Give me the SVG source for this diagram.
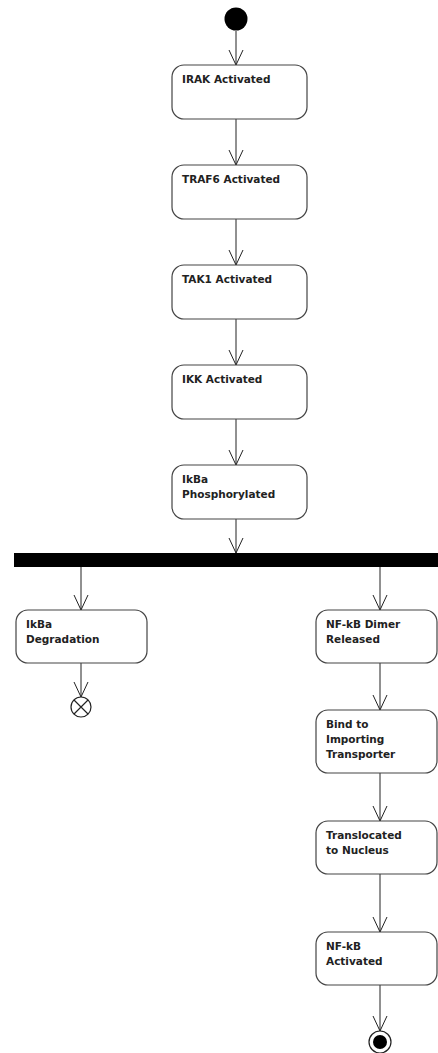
<svg xmlns="http://www.w3.org/2000/svg" width="438" height="1053" viewBox="0 0 438 1053">
<style>
.box{fill:#fff;stroke:#444;stroke-width:1.2}
.t{font-family:"DejaVu Sans",sans-serif;font-weight:bold;font-size:10.5px;fill:#222}
.c{stroke:#222;stroke-width:1;fill:none}
</style>
<defs>
<marker id="a" markerWidth="16" markerHeight="16" refX="15" refY="8" orient="auto" markerUnits="userSpaceOnUse">
<path d="M0,1 L15,8 L0,15" fill="none" stroke="#222" stroke-width="1"/>
</marker>
</defs>
<g id="connectors">
<line class="c" x1="236" y1="31" x2="236" y2="65" marker-end="url(#a)"/>
<line class="c" x1="236" y1="119" x2="236" y2="165" marker-end="url(#a)"/>
<line class="c" x1="236" y1="219" x2="236" y2="265" marker-end="url(#a)"/>
<line class="c" x1="236" y1="319" x2="236" y2="365" marker-end="url(#a)"/>
<line class="c" x1="236" y1="419" x2="236" y2="465" marker-end="url(#a)"/>
<line class="c" x1="236" y1="519" x2="236" y2="553" marker-end="url(#a)"/>
<line class="c" x1="81" y1="567" x2="81" y2="610" marker-end="url(#a)"/>
<line class="c" x1="380" y1="567" x2="380" y2="610" marker-end="url(#a)"/>
<line class="c" x1="81" y1="663" x2="81" y2="697" marker-end="url(#a)"/>
<line class="c" x1="380" y1="663" x2="380" y2="710" marker-end="url(#a)"/>
<line class="c" x1="380" y1="773" x2="380" y2="821" marker-end="url(#a)"/>
<line class="c" x1="380" y1="874" x2="380" y2="932" marker-end="url(#a)"/>
<line class="c" x1="380" y1="985" x2="380" y2="1031" marker-end="url(#a)"/>
</g>
<g id="start"><circle cx="236" cy="19" r="11.5" fill="#000"/></g>
<g id="irak"><rect class="box" x="172" y="65" width="135" height="54" rx="12"/><text class="t" x="182" y="83">IRAK Activated</text></g>
<g id="traf6"><rect class="box" x="172" y="165" width="135" height="54" rx="12"/><text class="t" x="182" y="183">TRAF6 Activated</text></g>
<g id="tak1"><rect class="box" x="172" y="265" width="135" height="54" rx="12"/><text class="t" x="182" y="283">TAK1 Activated</text></g>
<g id="ikk"><rect class="box" x="172" y="365" width="135" height="54" rx="12"/><text class="t" x="182" y="383">IKK Activated</text></g>
<g id="ikba-phos"><rect class="box" x="172" y="465" width="135" height="54" rx="12"/><text class="t" x="182" y="483">IkBa</text><text class="t" x="182" y="498">Phosphorylated</text></g>
<g id="fork"><rect x="14" y="553" width="426" height="14" fill="#000"/></g>
<g id="ikba-deg"><rect class="box" x="16" y="610" width="131" height="53" rx="12"/><text class="t" x="26" y="628">IkBa</text><text class="t" x="26" y="643">Degradation</text></g>
<g id="flow-final"><circle cx="81" cy="707" r="10" fill="#fff" stroke="#222" stroke-width="1.2"/><path d="M74,700 L88,714 M88,700 L74,714" stroke="#222" stroke-width="1.2"/></g>
<g id="dimer"><rect class="box" x="316" y="610" width="121" height="53" rx="12"/><text class="t" x="326" y="628">NF-kB Dimer</text><text class="t" x="326" y="643">Released</text></g>
<g id="bind"><rect class="box" x="316" y="710" width="121" height="63" rx="12"/><text class="t" x="326" y="728">Bind to</text><text class="t" x="326" y="743">Importing</text><text class="t" x="326" y="758">Transporter</text></g>
<g id="trans"><rect class="box" x="316" y="821" width="121" height="53" rx="12"/><text class="t" x="326" y="839">Translocated</text><text class="t" x="326" y="854">to Nucleus</text></g>
<g id="nfkb"><rect class="box" x="316" y="932" width="121" height="53" rx="12"/><text class="t" x="326" y="950">NF-kB</text><text class="t" x="326" y="965">Activated</text></g>
<g id="end"><circle cx="380" cy="1042" r="11" fill="#fff" stroke="#222" stroke-width="1.2"/><circle cx="380" cy="1042" r="7" fill="#000"/></g>
</svg>
